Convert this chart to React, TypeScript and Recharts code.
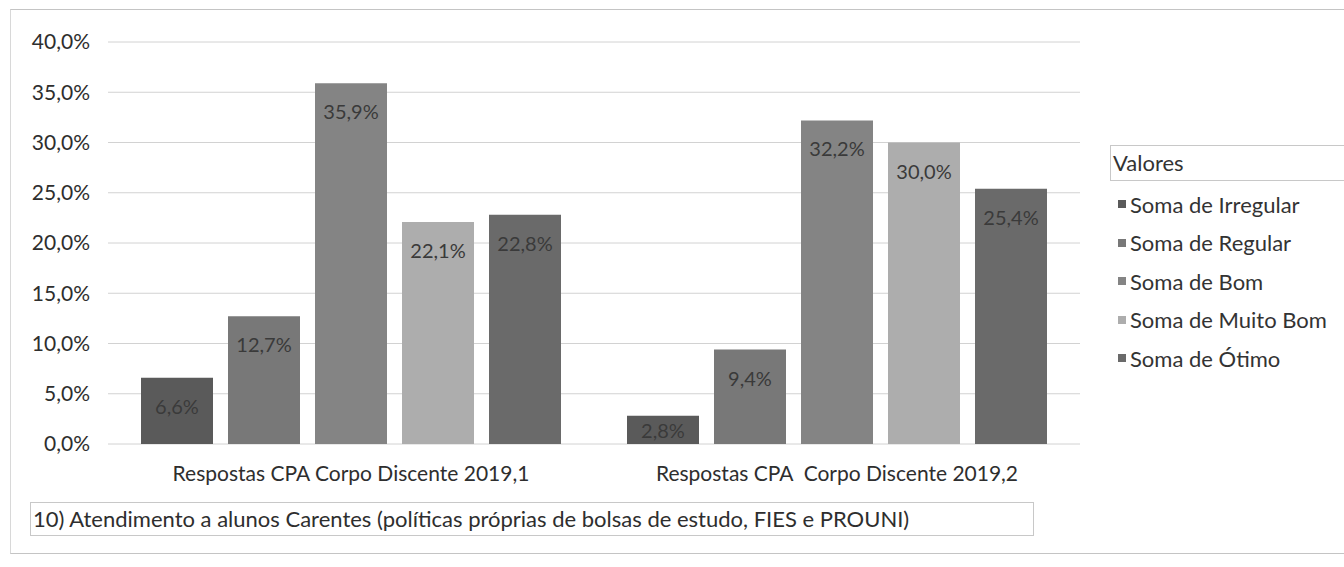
import React from "react";
import {
  BarChart,
  Bar,
  XAxis,
  YAxis,
  CartesianGrid,
  Legend,
  LabelList,
} from "recharts";

const periods = [
  "Respostas CPA Corpo Discente 2019,1",
  "Respostas CPA\u00a0 Corpo Discente 2019,2",
];
const irregular = [6.6, 2.8];
const regular = [12.7, 9.4];
const bom = [35.9, 32.2];
const muitoBom = [22.1, 30.0];
const otimo = [22.8, 25.4];
const yTicks = [0, 5, 10, 15, 20, 25, 30, 35, 40];

const series = [
  { key: "irregular", name: "Soma de Irregular", color: "#5a5a5a" },
  { key: "regular", name: "Soma de Regular", color: "#787878" },
  { key: "bom", name: "Soma de Bom", color: "#848484" },
  { key: "muitoBom", name: "Soma de Muito Bom", color: "#adadad" },
  { key: "otimo", name: "Soma de Ótimo", color: "#6a6a6a" },
];

const data = periods.map((p, i) => ({
  periodo: p,
  irregular: irregular[i],
  regular: regular[i],
  bom: bom[i],
  muitoBom: muitoBom[i],
  otimo: otimo[i],
}));

const font = "Lato, 'Open Sans', sans-serif";
const pct = (v: number) => v.toFixed(1).replace(".", ",") + "%";

const BarLabel = (props: any) => {
  const { x, y, width, height, value } = props;
  const cy = y + Math.min(28, height / 2);
  return (
    <text
      x={x + width / 2}
      y={cy}
      textAnchor="middle"
      dominantBaseline="central"
      fill="#3a3a3a"
      fontSize={20}
      fontFamily={font}
    >
      {pct(value)}
    </text>
  );
};

const LegendBox = () => (
  <div style={{ fontFamily: font, color: "#333", width: 234 }}>
    <div
      style={{
        border: "1px solid #c8c8c8",
        borderRight: "none",
        height: 34,
        lineHeight: "34px",
        paddingLeft: 2,
        fontSize: 22,
      }}
    >
      Valores
    </div>
    <div style={{ height: 4 }} />
    {series.map((s) => (
      <div
        key={s.key}
        style={{
          height: 38.5,
          paddingLeft: 8,
          fontSize: 22,
          display: "flex",
          alignItems: "center",
        }}
      >
        <span
          style={{
            width: 8,
            height: 8,
            background: s.color,
            display: "inline-block",
            marginRight: 4,
          }}
        />
        {s.name}
      </div>
    ))}
  </div>
);

export default function App() {
  return (
    <div
      style={{
        position: "absolute",
        left: 0,
        top: 0,
        width: 1344,
        height: 567,
        background: "#fff",
        overflow: "hidden",
      }}
    >
      <div
        style={{
          position: "absolute",
          left: 10,
          top: 9,
          width: 1340,
          height: 543,
          borderTop: "1px solid #c4c4c4",
          borderLeft: "1px solid #d8d8d8",
          borderBottom: "1px solid #c4c4c4",
        }}
      />
      <BarChart
        width={1344}
        height={567}
        data={data}
        margin={{ top: 42, right: 30, left: 0, bottom: 93 }}
        barCategoryGap={33}
        barGap={15}
      >
        <CartesianGrid vertical={false} stroke="#d2d2d2" />
        <XAxis
          dataKey="periodo"
          height={30}
          axisLine={false}
          tickLine={false}
          tickSize={0}
          tickMargin={22}
          interval={0}
          tick={{ fill: "#2e2e2e", fontSize: 21, fontFamily: font }}
        />
        <YAxis
          width={108}
          domain={[0, 40]}
          ticks={yTicks}
          axisLine={false}
          tickLine={false}
          tickSize={0}
          tickMargin={18}
          tickFormatter={pct}
          tick={{ fill: "#2e2e2e", fontSize: 21, fontFamily: font }}
        />
        <Legend
          layout="vertical"
          align="right"
          verticalAlign="middle"
          content={<LegendBox />}
          wrapperStyle={{ left: 1110, top: 145, width: 234 }}
        />
        {series.map((s) => (
          <Bar
            key={s.key}
            dataKey={s.key}
            name={s.name}
            fill={s.color}
            isAnimationActive={false}
          >
            <LabelList dataKey={s.key} content={<BarLabel />} />
          </Bar>
        ))}
      </BarChart>
      <div
        style={{
          position: "absolute",
          left: 30,
          top: 502,
          width: 1004,
          height: 34,
          border: "1px solid #c8c8c8",
          fontFamily: font,
          fontSize: 22,
          lineHeight: "32px",
          paddingLeft: 2,
          color: "#2e2e2e",
          boxSizing: "border-box",
          whiteSpace: "nowrap",
        }}
      >
        10) Atendimento a alunos Carentes (políticas próprias de bolsas de estudo, FIES e PROUNI)
      </div>
    </div>
  );
}
